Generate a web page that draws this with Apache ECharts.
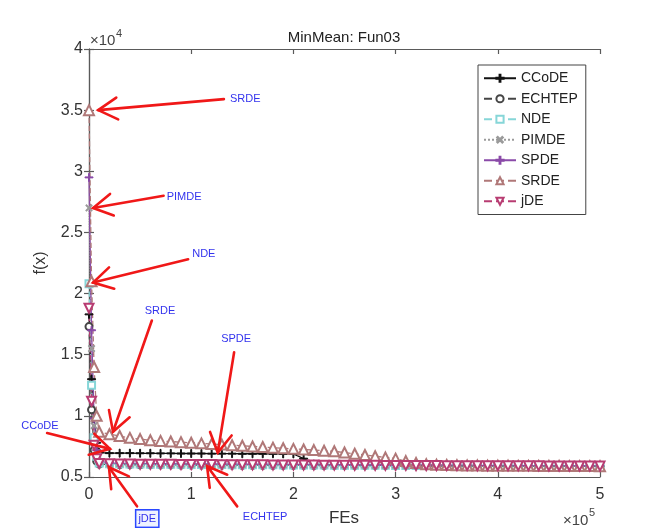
<!DOCTYPE html>
<html><head><meta charset="utf-8">
<script src="https://cdn.jsdelivr.net/npm/echarts@6/dist/echarts.min.js"></script>
<style>html,body{margin:0;padding:0;background:#fff}#c{width:656px;height:529px}</style>
</head><body><div id="c"></div>
<script>
// FEs (x values)
const xs = [0, 2500, 5000, 7500, 10000,
  20000, 30000, 40000, 50000, 60000, 70000, 80000, 90000, 100000,
  110000, 120000, 130000, 140000, 150000, 160000, 170000, 180000, 190000, 200000,
  210000, 220000, 230000, 240000, 250000, 260000, 270000, 280000, 290000, 300000,
  310000, 320000, 330000, 340000, 350000, 360000, 370000, 380000, 390000, 400000,
  410000, 420000, 430000, 440000, 450000, 460000, 470000, 480000, 490000, 500000];

const seriesNames = ['CCoDE', 'ECHTEP', 'NDE', 'PIMDE', 'SPDE', 'SRDE', 'jDE'];

const CCoDE = [18300, 13000, 9800, 7800, 7000,
  6950, 6950, 6950, 6940, 6940, 6930, 6930, 6920, 6920,
  6920, 6910, 6910, 6910, 6900, 6900, 6900, 6900, 6890, 6890,
  6500, 6050, 6000, 5990, 5980, 5970, 5960, 5950, 5950, 5940,
  5940, 5930, 5930, 5920, 5920, 5920, 5910, 5910, 5910, 5900,
  5900, 5900, 5900, 5890, 5890, 5890, 5890, 5880, 5880, 5880];

const ECHTEP = [17300, 10500, 7200, 6300, 6050,
  6030, 6020, 6010, 6000, 6000, 5990, 5990, 5980, 5980,
  5980, 5970, 5970, 5970, 5960, 5960, 5960, 5950, 5950, 5950,
  5950, 5940, 5940, 5940, 5940, 5930, 5930, 5930, 5930, 5920,
  5920, 5920, 5920, 5910, 5910, 5910, 5910, 5910, 5900, 5900,
  5900, 5900, 5900, 5890, 5890, 5890, 5890, 5890, 5880, 5880];

const NDE = [20800, 12500, 8200, 6700, 6150,
  6090, 6080, 6070, 6060, 6050, 6050, 6040, 6040, 6030,
  6030, 6020, 6020, 6010, 6010, 6000, 6000, 6000, 5990, 5990,
  5990, 5980, 5980, 5970, 5970, 5970, 5960, 5960, 5960, 5950,
  5950, 5950, 5940, 5940, 5940, 5930, 5930, 5930, 5920, 5920,
  5920, 5920, 5910, 5910, 5910, 5910, 5900, 5900, 5900, 5900];

const PIMDE = [27000, 15500, 9200, 7000, 6250,
  6100, 6090, 6080, 6070, 6060, 6060, 6050, 6050, 6040,
  6040, 6030, 6030, 6020, 6020, 6010, 6010, 6000, 6000, 6000,
  5990, 5990, 5980, 5980, 5980, 5970, 5970, 5960, 5960, 5960,
  5950, 5950, 5950, 5940, 5940, 5940, 5930, 5930, 5930, 5920,
  5920, 5920, 5910, 5910, 5910, 5910, 5900, 5900, 5900, 5900];

const SPDE = [29500, 17000, 9800, 7200, 6300,
  6150, 6130, 6120, 6110, 6100, 6100, 6090, 6090, 6080,
  6080, 6070, 6070, 6060, 6060, 6050, 6050, 6050, 6040, 6040,
  6030, 6030, 6020, 6020, 6010, 6010, 6000, 6000, 6000, 5990,
  5990, 5980, 5980, 5970, 5970, 5960, 5960, 5950, 5950, 5950,
  5940, 5940, 5930, 5930, 5930, 5920, 5920, 5910, 5910, 5910];

const SRDE = [35000, 21000, 14000, 10000, 8700,
  8500, 8350, 8200, 8100, 8000, 7950, 7900, 7850, 7800,
  7750, 7700, 7650, 7600, 7550, 7500, 7450, 7400, 7350, 7300,
  7250, 7200, 7150, 7100, 7000, 6900, 6800, 6700, 6600, 6500,
  6300, 6150, 6050, 6000, 5980, 5960, 5950, 5940, 5930, 5920,
  5920, 5910, 5910, 5900, 5900, 5900, 5890, 5890, 5890, 5880];

const jDE = [18800, 11200, 7600, 6500, 6100,
  6080, 6070, 6060, 6050, 6050, 6040, 6040, 6030, 6030,
  6020, 6020, 6010, 6010, 6000, 6000, 6000, 5990, 5990, 5990,
  5980, 5980, 5970, 5970, 5970, 5960, 5960, 5960, 5950, 5950,
  5950, 5940, 5940, 5940, 5930, 5930, 5930, 5920, 5920, 5920,
  5910, 5910, 5910, 5910, 5900, 5900, 5900, 5900, 5890, 5890];

const xTicks = ['0', '1', '2', '3', '4', '5'];
const yTicks = ['0.5', '1', '1.5', '2', '2.5', '3', '3.5', '4'];

// annotations: [label, tip(data), tail(data), label anchor(data), align]
const annotations = [
  ['SRDE', [9000, 35000], [132000, 35900], [138000, 35900], 'left'],
  ['PIMDE', [4000, 27000], [73000, 28000], [76000, 27900], 'left'],
  ['NDE', [4000, 20900], [97000, 22800], [101000, 23200], 'left'],
  ['SRDE', [23500, 8700], [61500, 17800], [69500, 18600], 'center'],
  ['SPDE', [126000, 7000], [142000, 15200], [144000, 16300], 'center'],
  ['CCoDE', [20500, 7300], [-41000, 8600], [-48000, 9200], 'center'],
  ['jDE', [19500, 5800], [47000, 2600], [57000, 1600], 'center'],
  ['ECHTEP', [115500, 5900], [145000, 2600], [150500, 1700], 'left']
];

const FONT = '"Liberation Sans", Arial, sans-serif';
const plusPath = 'path://M4.4,0h1.2v4.4h4.4v1.2h-4.4v4.4h-1.2v-4.4h-4.4v-1.2h4.4z';

const styles = {
  CCoDE: {color: '#111111', type: 'solid', symbol: plusPath, size: 8, rot: 0},
  ECHTEP: {color: '#454545', type: 'dashed', symbol: 'emptyCircle', size: 7, rot: 0},
  NDE: {color: '#86d6d8', type: 'dashed', symbol: 'emptyRect', size: 7, rot: 0},
  PIMDE: {color: '#9a9a9a', type: 'dotted', symbol: plusPath, size: 8, rot: 45},
  SPDE: {color: '#8a4aa8', type: 'solid', symbol: plusPath, size: 8, rot: 0},
  SRDE: {color: '#b07878', type: 'dashed', symbol: 'emptyTriangle', size: 10, rot: 0},
  jDE: {color: '#b83c72', type: 'dashed', symbol: 'emptyTriangle', size: 9, rot: 180}
};
const values = {CCoDE, ECHTEP, NDE, PIMDE, SPDE, SRDE, jDE};

const chart = echarts.init(document.getElementById('c'), null, {renderer: 'canvas'});

const series = seriesNames.map(n => {
  const s = styles[n];
  return {
    name: n, type: 'line',
    data: xs.map((x, i) => [x, values[n][i]]),
    showSymbol: true, showAllSymbol: true,
    symbol: s.symbol, symbolSize: s.size, symbolRotate: s.rot,
    lineStyle: {color: s.color, width: 1.3, type: s.type},
    itemStyle: {color: s.color, borderColor: s.color, borderWidth: 1},
    emphasis: {disabled: true},
    animation: false
  };
});

const axisLineStyle = {color: '#5a5a5a', width: 1.2};

chart.setOption({
  animation: false,
  backgroundColor: '#ffffff',
  grid: {left: 89, right: 56, top: 49, bottom: 52, containLabel: false},
  xAxis: [{
    type: 'value', min: 0, max: 500000, interval: 100000,
    axisLine: {show: true, lineStyle: axisLineStyle},
    axisTick: {show: true, inside: true, length: 5, lineStyle: axisLineStyle},
    axisLabel: {margin: 10, fontSize: 16, color: '#333', fontFamily: FONT,
      formatter: (v) => xTicks[Math.round(v / 100000)]},
    splitLine: {show: false}
  }, {
    type: 'value', min: 0, max: 500000, interval: 100000, position: 'top',
    axisLine: {show: true, lineStyle: axisLineStyle},
    axisTick: {show: true, inside: true, length: 5, lineStyle: axisLineStyle},
    axisLabel: {show: false}, splitLine: {show: false}
  }],
  yAxis: [{
    type: 'value', min: 5000, max: 40000, interval: 5000,
    axisLine: {show: true, lineStyle: axisLineStyle},
    axisTick: {show: true, inside: true, length: 5, lineStyle: axisLineStyle},
    axisLabel: {margin: 6, fontSize: 16, color: '#333', fontFamily: FONT,
      formatter: (v) => yTicks[Math.round((v - 5000) / 5000)]},
    splitLine: {show: false}
  }, {
    type: 'value', min: 5000, max: 40000, interval: 5000, position: 'right',
    axisLine: {show: true, lineStyle: axisLineStyle},
    axisTick: {show: true, inside: true, length: 5, lineStyle: axisLineStyle},
    axisLabel: {show: false}, splitLine: {show: false}
  }],
  legend: {
    orient: 'vertical', left: 478, top: 65,
    padding: [6, 8, 6, 5], itemGap: 6, itemWidth: 32, itemHeight: 9,
    backgroundColor: '#fff', borderColor: '#444', borderWidth: 1,
    textStyle: {fontSize: 14, lineHeight: 14.5, color: '#222', fontFamily: FONT},
    data: seriesNames
  },
  series: series
});

function px(p) { return chart.convertToPixel({xAxisIndex: 0, yAxisIndex: 0}, p); }

function txt(t, x, y, size, fill, align) {
  return {type: 'text', z: 50, style: {text: t, x: x, y: y, fill: fill, font: size + 'px ' + FONT,
    textAlign: align || 'left', textVerticalAlign: 'middle'}};
}

const g = [];
g.push(txt('MinMean: Fun03', 344, 38, 15, '#222', 'center'));
g.push(txt('\u00d710', 90, 41, 15, '#444'));
g.push(txt('4', 116, 34, 11, '#444'));
g.push(txt('\u00d710', 563, 521, 15, '#444'));
g.push(txt('5', 589, 513, 11, '#444'));
g.push(txt('FEs', 344, 518, 17, '#333', 'center'));
g.push({type: 'text', z: 50, rotation: Math.PI / 2, x: 41, y: 263,
  style: {text: 'f(x)', x: 0, y: 0, fill: '#333', font: '16px ' + FONT, textAlign: 'center', textVerticalAlign: 'middle'}});

annotations.forEach(a => {
  const tip = px(a[1]), tail = px(a[2]), lab = px(a[3]);
  const ang = Math.atan2(tail[1] - tip[1], tail[0] - tip[0]);
  const L = 22, da = 0.52;
  const a1 = [tip[0] + L * Math.cos(ang + da), tip[1] + L * Math.sin(ang + da)];
  const a2 = [tip[0] + L * Math.cos(ang - da), tip[1] + L * Math.sin(ang - da)];
  g.push({type: 'polyline', z: 100, shape: {points: [tail, tip]}, style: {stroke: '#f01818', lineWidth: 2.6, fill: null, lineCap: 'round'}});
  g.push({type: 'polyline', z: 100, shape: {points: [a1, tip, a2]}, style: {stroke: '#f01818', lineWidth: 2.6, fill: null, lineCap: 'round', lineJoin: 'miter'}});
  const isBox = a[0] === 'jDE';
  g.push({type: 'text', z: 101, style: {
    text: a[0], x: lab[0], y: lab[1], fill: '#3333ee', font: '11px ' + FONT,
    textAlign: a[4], textVerticalAlign: 'middle',
    backgroundColor: isBox ? '#eef2ff' : null,
    borderColor: isBox ? '#2a48ff' : null, borderWidth: isBox ? 1.5 : 0,
    padding: isBox ? [3, 2, 2, 2] : 0
  }});
});

chart.setOption({graphic: g});
</script>
</body></html>
